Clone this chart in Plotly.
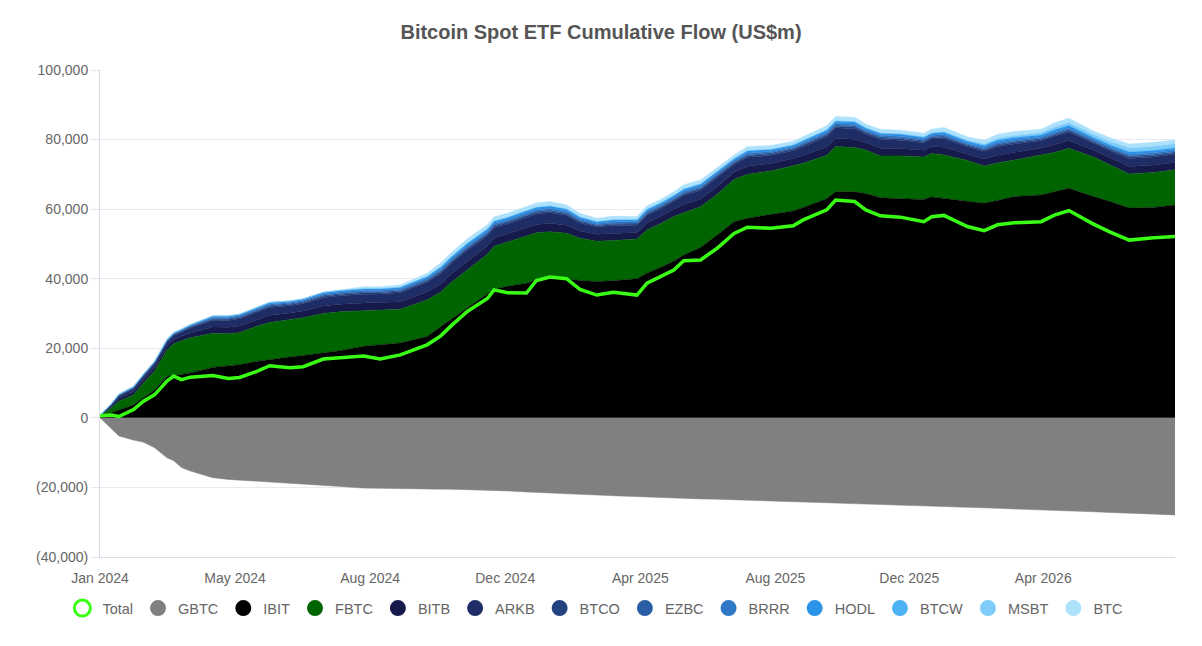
import plotly.graph_objects as go

# Datas das leituras (aprox. a cada 2-3 semanas)
datas = ['2024-01-01', '2024-01-11', '2024-01-18', '2024-01-31', '2024-02-09', '2024-02-19',
         '2024-03-01', '2024-03-07', '2024-03-14', '2024-03-22', '2024-04-11', '2024-04-25',
         '2024-05-05', '2024-05-20', '2024-06-01', '2024-06-19', '2024-07-01', '2024-07-19',
         '2024-08-03', '2024-08-24', '2024-09-08', '2024-09-26', '2024-10-20', '2024-11-01',
         '2024-11-10', '2024-11-25', '2024-12-13', '2024-12-19', '2024-12-31', '2025-01-17',
         '2025-01-26', '2025-02-07', '2025-02-22', '2025-03-06', '2025-03-21', '2025-04-05',
         '2025-04-26', '2025-05-05', '2025-05-17', '2025-05-29', '2025-06-07', '2025-06-22',
         '2025-07-07', '2025-07-22', '2025-08-03', '2025-08-24', '2025-09-13', '2025-09-22',
         '2025-10-13', '2025-10-21', '2025-11-07', '2025-11-17', '2025-11-30', '2025-12-18',
         '2026-01-08', '2026-01-15', '2026-01-26', '2026-02-16', '2026-03-03', '2026-03-15',
         '2026-03-30', '2026-04-23', '2026-05-05', '2026-05-18', '2026-06-09', '2026-06-24',
         '2026-07-11', '2026-08-02', '2026-08-21']

total = [600, 800, 400, 2400, 4800, 6700, 10600, 12000, 11000, 11700, 12200, 11300,
         11600, 13300, 15000, 14400, 14700, 16900, 17300, 17800, 16900, 18100, 21000, 23500,
         26300, 30600, 34300, 36800, 36000, 35900, 39500, 40500, 40000, 36900, 35300, 36100,
         35300, 38700, 40600, 42500, 45200, 45400, 48800, 53000, 54800, 54500, 55200, 56900,
         59800, 62600, 62200, 59800, 58100, 57700, 56400, 57800, 58200, 55000, 53800, 55500,
         56100, 56400, 58300, 59600, 55700, 53400, 51100, 51800, 52100]

gbtc = [0, -3000, -5200, -6400, -7000, -8600, -11500, -12300, -14300, -15300, -17200, -17700,
        -17900, -18100, -18300, -18700, -18900, -19300, -19700, -20200, -20300, -20300, -20400, -20500,
        -20500, -20600, -20700, -20800, -21000, -21300, -21400, -21600, -21800, -22000, -22200, -22400,
        -22700, -22800, -22900, -23000, -23100, -23300, -23400, -23600, -23700, -23900, -24100, -24200,
        -24400, -24500, -24600, -24700, -24800, -25000, -25300, -25400, -25500, -25700, -25800, -26000,
        -26200, -26400, -26600, -26800, -27000, -27200, -27400, -27700, -27900]

ibit = [300, 1500, 2300, 3700, 5800, 8000, 11900, 12300, 12500, 12900, 14500, 15000,
        15300, 16200, 16800, 17500, 17900, 18700, 19300, 20600, 21000, 21500, 23400, 26000,
        28200, 31600, 35500, 37000, 37800, 38700, 39700, 40300, 40000, 39500, 39200, 39400,
        40000, 41600, 43200, 45000, 46800, 49000, 52600, 56400, 57400, 58400, 59500, 60500,
        63000, 65000, 65000, 64500, 63300, 63000, 62800, 63500, 63100, 62300, 61700, 62500,
        63600, 64100, 65000, 66000, 63600, 62200, 60300, 60500, 61200]

fbtc = [200, 1300, 2500, 2900, 4200, 5500, 7600, 9000, 9700, 10100, 9800, 9200,
        9200, 10100, 10600, 10700, 10900, 11300, 11200, 10200, 10000, 9700, 10500, 10100,
        10600, 10900, 11500, 12300, 12700, 13600, 13500, 13200, 13100, 12100, 11600, 11600,
        11400, 12400, 12600, 12900, 12200, 11700, 11700, 12100, 12600, 12600, 13000, 12700,
        12500, 13000, 12700, 12500, 12000, 12300, 12200, 12500, 12500, 11700, 10700, 10800,
        10500, 11500, 11300, 11500, 11400, 10500, 9800, 10000, 10100]

bitb = [80, 450, 750, 900, 980, 1050, 1120, 1200, 1230, 1400, 1800, 1820,
        1900, 1930, 2070, 1950, 1950, 2150, 2150, 2200, 2150, 2200, 2300, 2400,
        2420, 2500, 2380, 2380, 2330, 2380, 2400, 2420, 2300, 2100, 1950, 2050,
        1920, 2050, 2050, 2080, 2300, 2230, 2230, 2080, 2300, 2120, 2050, 2230,
        2380, 2400, 2420, 2180, 2230, 2150, 1950, 1980, 2200, 1880, 2020, 2220,
        2200, 1950, 2220, 2230, 1900, 1960, 2150, 2170, 2140]

arkb = [80, 450, 750, 900, 980, 1050, 1130, 1200, 1240, 1450, 1950, 2000,
        2080, 2120, 2280, 2100, 2100, 2400, 2450, 2550, 2450, 2550, 2750, 2950,
        2980, 3150, 2950, 2950, 2880, 2950, 2980, 3020, 2750, 2350, 2100, 2250,
        2060, 2250, 2250, 2280, 2600, 2500, 2500, 2280, 2600, 2350, 2250, 2500,
        2950, 2980, 3020, 2420, 2500, 2380, 2150, 2200, 2450, 2050, 2200, 2420,
        2400, 2100, 2400, 2410, 2050, 2120, 2320, 2340, 2310]

btco = [10, 80, 130, 150, 160, 180, 190, 200, 210, 240, 310, 320,
        330, 340, 360, 340, 340, 390, 390, 400, 390, 400, 420, 450,
        450, 480, 460, 460, 450, 460, 460, 470, 440, 400, 370, 390,
        370, 390, 390, 400, 440, 430, 430, 400, 440, 410, 390, 430,
        460, 460, 470, 420, 430, 410, 380, 390, 430, 370, 400, 440,
        440, 390, 440, 440, 380, 390, 430, 430, 430]

ezbc = [10, 60, 100, 120, 130, 140, 150, 160, 160, 180, 230, 230,
        240, 240, 260, 250, 250, 280, 280, 290, 280, 290, 310, 330,
        330, 350, 340, 340, 330, 340, 340, 340, 330, 300, 280, 290,
        280, 290, 290, 290, 330, 320, 320, 290, 330, 300, 290, 320,
        340, 340, 340, 310, 320, 310, 280, 290, 320, 280, 300, 330,
        330, 290, 330, 330, 280, 290, 320, 320, 320]

brrr = [10, 80, 130, 160, 170, 180, 190, 200, 210, 240, 320, 330,
        340, 350, 380, 350, 350, 400, 400, 410, 400, 410, 430, 450,
        450, 480, 460, 460, 450, 460, 460, 470, 440, 400, 380, 400,
        380, 400, 400, 400, 450, 430, 430, 400, 450, 410, 400, 430,
        460, 460, 470, 420, 430, 420, 380, 390, 430, 370, 400, 440,
        440, 390, 440, 440, 380, 390, 430, 430, 430]

hodl = [10, 70, 120, 140, 150, 170, 180, 200, 210, 250, 340, 350,
        360, 370, 400, 370, 370, 430, 450, 480, 470, 490, 560, 640,
        660, 720, 680, 680, 660, 680, 690, 700, 650, 590, 540, 570,
        530, 570, 570, 580, 650, 630, 630, 580, 650, 600, 570, 630,
        680, 690, 700, 620, 630, 610, 560, 570, 640, 560, 610, 670,
        670, 600, 690, 700, 600, 620, 680, 690, 680]

btcw = [0, 10, 20, 30, 30, 30, 40, 40, 40, 40, 50, 50,
        50, 50, 50, 40, 40, 50, 50, 50, 50, 50, 60, 60,
        60, 70, 70, 70, 70, 70, 70, 70, 70, 60, 60, 60,
        60, 60, 60, 60, 70, 70, 70, 60, 70, 60, 60, 70,
        70, 70, 70, 60, 70, 60, 60, 60, 70, 60, 60, 70,
        70, 60, 70, 70, 60, 60, 70, 70, 70]

msbt = [0, 0, 0, 0, 0, 0, 0, 0, 0, 0, 0, 0,
        0, 0, 0, 0, 0, 0, 0, 0, 0, 0, 0, 0,
        0, 0, 0, 0, 0, 0, 0, 0, 0, 0, 0, 0,
        0, 0, 0, 0, 0, 0, 0, 0, 0, 0, 0, 0,
        0, 0, 0, 0, 0, 0, 50, 100, 200, 250, 350, 450,
        500, 600, 750, 800, 850, 920, 1050, 1100, 1100]

btc = [0, 0, 0, 0, 0, 0, 0, 0, 0, 0, 0, 0,
       0, 0, 0, 0, 0, 0, 130, 520, 510, 610, 870, 1120,
       1150, 1250, 1160, 1160, 1130, 1160, 1200, 1210, 1120, 1000, 920, 990,
       900, 990, 990, 1010, 1160, 1090, 1090, 1010, 1160, 1050, 990, 1090,
       1160, 1200, 1210, 1070, 1090, 1060, 990, 1020, 1160, 980, 1060, 1160,
       1150, 1020, 1160, 1180, 1000, 1050, 1150, 1150, 1120]

# Eixos
y_ticks = [-40000, -20000, 0, 20000, 40000, 60000, 80000, 100000]
y_labels = ['(40,000)', '(20,000)', '0', '20,000', '40,000', '60,000', '80,000', '100,000']
x_ticks = ['2024-01-01', '2024-05-01', '2024-08-30', '2024-12-29',
           '2025-04-29', '2025-08-28', '2025-12-26', '2026-04-25']
x_labels = ['Jan 2024', 'May 2024', 'Aug 2024', 'Dec 2024',
            'Apr 2025', 'Aug 2025', 'Dec 2025', 'Apr 2026']

cor_total = '#39ff14'
positivos = [
    ('IBIT', ibit, '#000000'),
    ('FBTC', fbtc, '#006400'),
    ('BITB', bitb, '#151a4b'),
    ('ARKB', arkb, '#1f2d66'),
    ('BTCO', btco, '#23427f'),
    ('EZBC', ezbc, '#2a5ea4'),
    ('BRRR', brrr, '#2e78c6'),
    ('HODL', hodl, '#2b93e8'),
    ('BTCW', btcw, '#4db3f4'),
    ('MSBT', msbt, '#80ccf8'),
    ('BTC', btc, '#aee2fc'),
]

fig = go.Figure()

# GBTC (saidas) abaixo de zero
fig.add_trace(go.Scatter(x=datas, y=gbtc, name='GBTC', mode='lines', stackgroup='neg',
                         line=dict(width=0.5, color='#808080'), fillcolor='#808080',
                         showlegend=False))

# Fundos com entradas empilhados acima de zero
for nome, valores, cor in positivos:
    fig.add_trace(go.Scatter(x=datas, y=valores, name=nome, mode='lines', stackgroup='pos',
                             line=dict(width=0.5, color=cor), fillcolor=cor,
                             showlegend=False))

# Linha do total
fig.add_trace(go.Scatter(x=datas, y=total, name='Total', mode='lines',
                         line=dict(color=cor_total, width=3.5), showlegend=False))

# Entradas da legenda (circulos)
fig.add_trace(go.Scatter(x=[None], y=[None], name='Total', mode='markers',
                         marker=dict(symbol='circle-open', size=16, color=cor_total,
                                     line=dict(width=3, color=cor_total))))
for nome, cor in [('GBTC', '#808080')] + [(n, c) for n, _, c in positivos]:
    fig.add_trace(go.Scatter(x=[None], y=[None], name=nome, mode='markers',
                             marker=dict(symbol='circle', size=16, color=cor)))

fig.update_layout(
    width=1186, height=628,
    paper_bgcolor='white', plot_bgcolor='white',
    font=dict(family='Liberation Sans, Arial, sans-serif', size=14, color='#666666'),
    title=dict(text='<b>Bitcoin Spot ETF Cumulative Flow (US$m)</b>', x=0.5, xanchor='center',
               yref='container', y=1 - 24 / 628, yanchor='middle',
               font=dict(size=20, color='#555555')),
    margin=dict(l=92, r=19, t=62, b=79),
    showlegend=True,
    # ancorada a esquerda fora do grafico para caber numa linha so
    legend=dict(orientation='h', x=-0.035, xanchor='left', y=-0.105, yanchor='middle',
                font=dict(size=14.5, color='#666666'), traceorder='normal'),
    xaxis=dict(type='date', range=['2024-01-01', '2026-08-21'],
               tickvals=x_ticks, ticktext=x_labels, showgrid=False,
               showline=True, linecolor='#d9dce8', linewidth=1,
               ticks='outside', ticklen=8, tickcolor='rgba(0,0,0,0)'),
    yaxis=dict(range=[-40000, 100000], tickvals=y_ticks, ticktext=y_labels,
               showgrid=True, gridcolor='#e8eaf3', zeroline=False,
               showline=True, linecolor='#d9dce8', linewidth=1,
               ticks='outside', ticklen=8, tickcolor='#e3e6f0'),
)

fig.write_html('out.html')
